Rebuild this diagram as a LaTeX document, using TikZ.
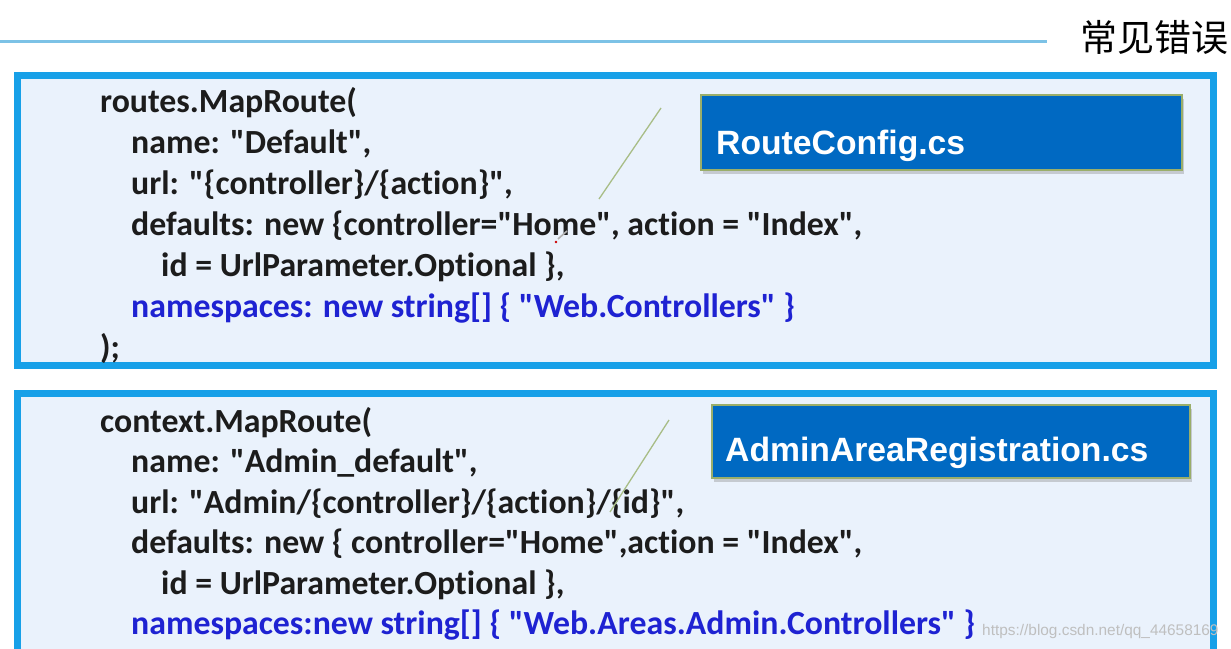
\documentclass[tikz,border=0pt]{standalone}
\usepackage{fontspec}
\setmainfont{Carlito}[Ligatures={TeXOff,NoCommon}]
\newfontfamily\labelfont{Liberation Sans}[Ligatures=TeXOff]
\newfontfamily\cjkfont{Noto Sans CJK SC}
\usetikzlibrary{shadows}

\definecolor{codeblack}{HTML}{1C1C1C}
\definecolor{nsblue}{HTML}{1E22D2}
\definecolor{panelfill}{HTML}{EAF2FC}
\definecolor{panelblue}{HTML}{17A0E8}
\definecolor{fileblue}{HTML}{0069C2}
\definecolor{fileedge}{HTML}{9AAE6A}
\definecolor{penline}{HTML}{A8BD86}
\definecolor{titleline}{HTML}{7CC2E6}

\tikzset{
  codeline/.style={anchor=base west,inner sep=0pt,text=codeblack,
    font=\fontsize{33.8}{41}\selectfont\bfseries},
  nsline/.style={codeline,text=nsblue},
  panel/.style={draw=panelblue,line width=7pt,fill=panelfill,
    drop shadow={shadow xshift=3pt,shadow yshift=-2pt,opacity=.15}},
  filebox/.style={draw=fileedge,line width=1.2pt,fill=fileblue,
    drop shadow={shadow xshift=2pt,shadow yshift=-4pt,opacity=.35}},
  filetext/.style={anchor=base west,inner sep=0pt,text=white,
    font=\labelfont\fontsize{33.7}{38}\selectfont\bfseries}
}

\begin{document}
\begin{tikzpicture}[x=1pt,y=-1pt]
  \useasboundingbox (0,0) rectangle (1231,648);
  \clip (0,0) rectangle (1231,648);
  \fill[white] (0,0) rectangle (1231,648);

  % heading
  \draw[titleline,line width=3pt] (0,41) -- (1047,41);
  \node[inner sep=0pt,font=\cjkfont\fontsize{37}{40}\selectfont] (title) at (1154,37) {常见错误};

  % panels
  \draw[panel] (17.5,75.5) rectangle (1213.5,365.5);
  \draw[panel] (17.5,393.5) rectangle (1213.5,720);

  % file names
  \filldraw[filebox] (701,95) rectangle (1182,170);
  \node[filetext] (routecfg) at (716,154) {RouteConfig.cs};
  \filldraw[filebox] (712,405) rectangle (1190,478);
  \node[filetext] (areareg) at (725,461) {AdminAreaRegistration.cs};

  % RouteConfig
  \node[codeline] (r1) at (100,112) {routes.MapRoute(};
  \node[codeline] (r2) at (131,153) {name: "Default",};
  \node[codeline] (r3) at (131,194) {url: "\{controller\}/\{action\}",};
  \node[codeline] (r4) at (131,235) {defaults: new \{controller="Home", action = "Index",};
  \node[codeline] (r5) at (161,276) {id = UrlParameter.Optional \},};
  \node[nsline]   (r6) at (131,317) {namespaces: new string[] \{ "Web.Controllers" \}};
  \node[codeline] (r7) at (100,358) {);};

  % AdminAreaRegistration
  \node[codeline] (c1) at (100,432) {context.MapRoute(};
  \node[codeline] (c2) at (131,472.5) {name: "Admin\_default",};
  \node[codeline] (c3) at (131,513) {url: "Admin/\{controller\}/\{action\}/\{id\}",};
  \node[codeline] (c4) at (131,553.5) {defaults: new \{ controller="Home",action = "Index",};
  \node[codeline] (c5) at (161,594) {id = UrlParameter.Optional \},};
  \node[nsline]   (c6) at (131,634.5) {namespaces:new string[] \{ "Web.Areas.Admin.Controllers" \}};

  % pen strokes
  \draw[penline,line width=1.3pt] (661,108) -- (599,199);
  \draw[penline,line width=1.3pt] (669,420) -- (610,512);
  \draw[gray!60,line width=1.6pt] (558,239) -- (567,231);
  \fill[red!80!black] (556,242) circle (1.3);

  % watermark
  \node[anchor=base west,inner sep=0pt,text=black!25,
    font=\labelfont\fontsize{15.4}{17}\selectfont] (mark) at (982,635)
    {https://blog.csdn.net/qq\_44658169};
\end{tikzpicture}
\end{document}
